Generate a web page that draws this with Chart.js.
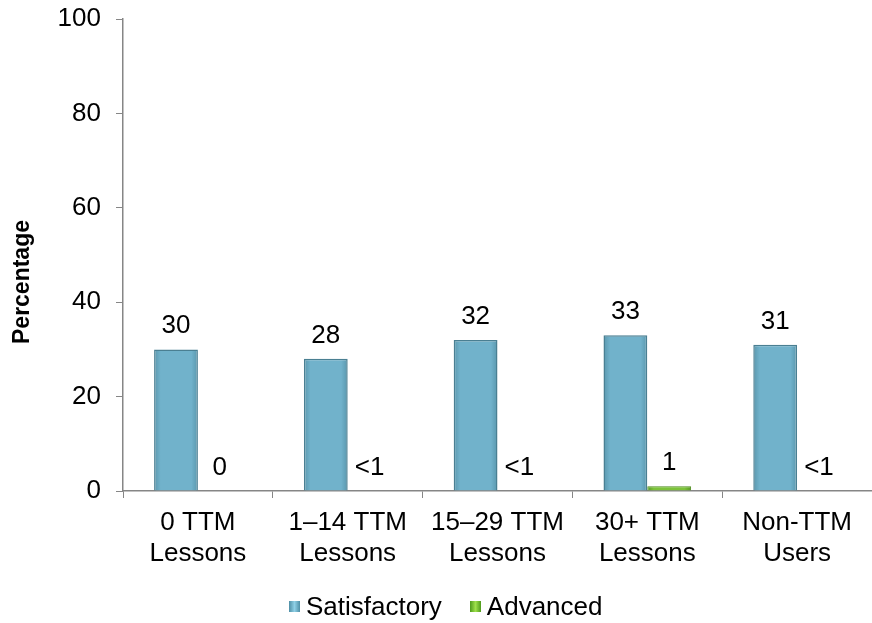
<!DOCTYPE html>
<html>
<head>
<meta charset="utf-8">
<title>TTM Lessons - Percentage</title>
<script src="https://cdn.jsdelivr.net/npm/chart.js@4/dist/chart.umd.min.js"></script>
<style>
    html, body {
        margin: 0;
        padding: 0;
        background: #ffffff;
        overflow: hidden;
        width: 872px;
        height: 623px;
    }
    .chart-wrap {
        position: absolute;
        left: 0;
        top: -9px;
        width: 872px;
        height: 632px;
    }
    .legend {
        position: absolute;
        left: 289px;
        top: 591px;
        display: flex;
        align-items: center;
        font-family: "Liberation Sans", Arial, sans-serif;
        font-size: 26px;
        color: #000;
        white-space: nowrap;
    }
    .legend .swatch {
        display: inline-block;
        width: 11px;
        height: 11px;
        margin-right: 6px;
    }
    .legend .item {
        display: flex;
        align-items: center;
        margin-right: 28px;
    }
    .swatch.sat { background: linear-gradient(90deg, #4f8fa6, #8fd0e6 50%, #4f8fa6); }
    .swatch.adv { background: linear-gradient(90deg, #4e9a1c, #9ee04a 50%, #4e9a1c); }
</style>
</head>
<body>
<div class="chart-wrap">
    <canvas id="ttmChart" width="872" height="632"></canvas>
</div>
<div class="legend">
    <span class="item"><span class="swatch sat"></span>Satisfactory</span>
    <span class="item"><span class="swatch adv"></span>Advanced</span>
</div>

<script>
// ========================================
// DATA
// ========================================
const categories = [
    ['0 TTM', 'Lessons'],
    ['1\u201314 TTM', 'Lessons'],
    ['15\u201329 TTM', 'Lessons'],
    ['30+ TTM', 'Lessons'],
    ['Non-TTM', 'Users']
];
const satisfactory = [30, 28, 32, 33, 31];
const advanced = [0, 0, 0, 1, 0];
const satisfactoryLabels = ['30', '28', '32', '33', '31'];
const advancedLabels = ['0', '<1', '<1', '1', '<1'];
const yTicks = [0, 20, 40, 60, 80, 100];

const FONT = '"Liberation Sans", Arial, sans-serif';

// ========================================
// BAR FILLS (horizontal shading per bar)
// ========================================
function barGradient(ctx, datasetIndex, dark, light) {
    const chart = ctx.chart;
    const xScale = chart.scales.x;
    if (!xScale || ctx.dataIndex === undefined) return light;
    const center = xScale.getPixelForValue(ctx.dataIndex);
    const half = xScale.width / categories.length * 0.585 / 2;
    if (!isFinite(center) || !isFinite(half) || half <= 0) return light;
    const x0 = datasetIndex === 0 ? center - half : center;
    const x1 = x0 + half;
    const g = chart.ctx.createLinearGradient(x0, 0, x1, 0);
    g.addColorStop(0, dark);
    g.addColorStop(0.15, light);
    g.addColorStop(0.85, light);
    g.addColorStop(1, dark);
    return g;
}

// ========================================
// VALUE LABELS + Y TITLE PLUGIN
// ========================================
const valueLabels = {
    id: 'valueLabels',
    afterDatasetsDraw(chart) {
        const ctx = chart.ctx;
        const yScale = chart.scales.y;
        ctx.save();
        ctx.font = '26px ' + FONT;
        ctx.fillStyle = '#000';
        ctx.textAlign = 'center';
        ctx.textBaseline = 'alphabetic';
        [satisfactoryLabels, advancedLabels].forEach((labels, di) => {
            const meta = chart.getDatasetMeta(di);
            meta.data.forEach((bar, i) => {
                const top = yScale.getPixelForValue(chart.data.datasets[di].data[i]);
                ctx.fillText(labels[i], bar.x, top - 16);
            });
        });

        // y axis title (canvas sits 9px above the page top)
        ctx.translate(23, 291);
        ctx.rotate(-Math.PI / 2);
        ctx.font = 'bold 23px ' + FONT;
        ctx.textBaseline = 'middle';
        ctx.fillText('Percentage', 0, 0);
        ctx.restore();
    }
};

// ========================================
// CHART
// ========================================
const chartCtx = document.getElementById('ttmChart').getContext('2d');
new Chart(chartCtx, {
    type: 'bar',
    data: {
        labels: categories,
        datasets: [{
            label: 'Satisfactory',
            data: satisfactory,
            backgroundColor: ctx => barGradient(ctx, 0, '#5a97ad', '#71b2cb'),
            borderColor: '#4a7f92',
            borderWidth: 1.5,
            categoryPercentage: 0.585,
            barPercentage: 1
        }, {
            label: 'Advanced',
            data: advanced,
            backgroundColor: ctx => barGradient(ctx, 1, '#5a9c24', '#7cc23a'),
            borderColor: '#4d8a1e',
            borderWidth: 1,
            categoryPercentage: 0.585,
            barPercentage: 1
        }]
    },
    options: {
        responsive: false,
        animation: false,
        layout: {
            padding: { top: 0, right: 0, bottom: 0, left: 0 }
        },
        plugins: {
            legend: { display: false },
            tooltip: { enabled: false }
        },
        scales: {
            x: {
                grid: {
                    offset: true,
                    drawOnChartArea: false,
                    drawTicks: true,
                    tickLength: 7,
                    color: '#868686'
                },
                border: { display: true, color: '#868686', width: 1.5 },
                ticks: {
                    color: '#000',
                    padding: 9,
                    maxRotation: 0,
                    autoSkip: false,
                    font: { family: FONT, size: 26, lineHeight: 1.2 }
                },
                afterFit: scale => { scale.height = 132; }
            },
            y: {
                min: 0,
                max: 100,
                afterBuildTicks: scale => {
                    scale.ticks = yTicks.map(v => ({ value: v }));
                },
                grid: {
                    drawOnChartArea: false,
                    drawTicks: true,
                    tickLength: 7,
                    color: '#868686'
                },
                border: { display: true, color: '#868686', width: 1.5 },
                ticks: {
                    color: '#000',
                    padding: 15,
                    font: { family: FONT, size: 26, lineHeight: 1 }
                },
                afterFit: scale => { scale.width = 123; }
            }
        }
    },
    plugins: [valueLabels]
});
</script>
</body>
</html>
